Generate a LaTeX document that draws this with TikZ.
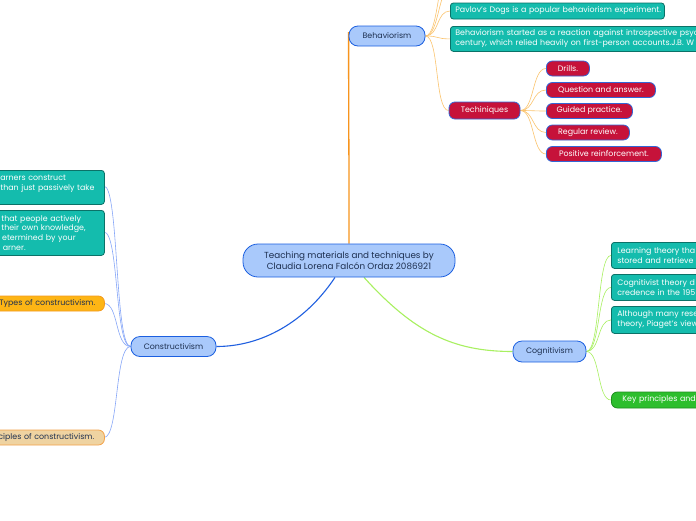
\documentclass[tikz,border=0pt]{standalone}
\usepackage{fontspec}
\setmainfont{Poppins}
\usetikzlibrary{backgrounds,calc}
\hyphenpenalty=10000
\definecolor{lblue}{HTML}{A9C9FB}
\definecolor{bblue}{HTML}{1B5FE0}
\definecolor{navy}{HTML}{1D2F4F}
\definecolor{tealf}{HTML}{14BCAD}
\definecolor{teald}{HTML}{0B7268}
\definecolor{redf}{HTML}{C6123A}
\definecolor{redb}{HTML}{3366D6}
\definecolor{orf}{HTML}{FDB515}
\definecolor{orb}{HTML}{F39A1E}
\definecolor{tanf}{HTML}{EFD3A1}
\definecolor{tanb}{HTML}{F3A24A}
\definecolor{grf}{HTML}{2DBE2D}
\definecolor{grb}{HTML}{1F8F1F}
\definecolor{lorange}{HTML}{FBC46E}
\definecolor{morange}{HTML}{F7941D}
\definecolor{mblue}{HTML}{1F5FE0}
\definecolor{llblue}{HTML}{86A6F8}
\definecolor{lgreen}{HTML}{A8F060}
\tikzset{
  fnt/.style={font=\fontsize{7.9}{9.8}\selectfont},
  topic/.style={fnt, draw=bblue, fill=lblue, text=navy, line width=0.8pt, rounded corners=9pt, inner sep=0pt, align=center},
  tealbox/.style={fnt, draw=teald, fill=tealf, text=white, line width=0.8pt, rounded corners=3pt, inner xsep=5pt, inner ysep=2pt, align=left},
  redpill/.style={fnt, draw=redb, fill=redf, text=white, line width=0.8pt, rounded corners=6pt, inner sep=0pt, align=center},
  orpill/.style={fnt, draw=orb, fill=orf, text=navy, line width=0.8pt, rounded corners=6pt, inner xsep=9pt, inner ysep=0pt, align=left},
  tanpill/.style={fnt, draw=tanb, fill=tanf, text=navy, line width=0.8pt, rounded corners=6pt, inner xsep=10pt, inner ysep=0pt, align=left},
  grpill/.style={fnt, draw=grb, fill=grf, text=white, line width=0.8pt, rounded corners=6pt, inner xsep=11pt, inner ysep=0pt, align=left},
  mainor/.style={draw=morange, line width=1.3pt},
  mainbl/.style={draw=mblue, line width=1.1pt},
  maingr/.style={draw=lgreen, line width=1.1pt},
  subor/.style={draw=lorange, line width=0.6pt},
  subbl/.style={draw=llblue, line width=0.6pt},
  subgr/.style={draw=lgreen, line width=0.6pt},
}
\begin{document}
\begin{tikzpicture}[x=1pt,y=-1pt]
\useasboundingbox (0,0) rectangle (696,520);

% central
\node[topic, font=\fontsize{8.8}{11}\selectfont, minimum width=212pt, minimum height=33pt, rounded corners=15pt] (cent) at (349,260.5)
  {Teaching materials and techniques by\\Claudia Lorena Falcón Ordaz 2086921};

% Behaviorism branch
\node[topic, minimum width=76pt, minimum height=20pt] (behav) at (387,36) {Behaviorism};
\node[tealbox, anchor=west, text width=204pt, minimum height=16pt] (pavlov) at (450,11)
  {\mbox{Pavlov's Dogs is a popular behaviorism experiment.}};
\node[tealbox, anchor=north west, text width=290pt, minimum height=25pt] (started) at (450,26)
  {\mbox{Behaviorism started as a reaction against introspective psyc}\\\mbox{century, which relied heavily on first-person accounts.J.B. W}};
\coordinate (up1) at (452,-14);
\coordinate (up2) at (452,-40);
\node[redpill, minimum width=71pt, minimum height=17pt] (tech) at (484.5,110.5) {Techiniques};
\node[redpill, anchor=west, minimum width=43pt, minimum height=15pt] (drills) at (546,68.5) {Drills.};
\node[redpill, anchor=west, minimum width=109pt, minimum height=15pt] (qa) at (546,90) {Question and answer.};
\node[redpill, anchor=west, minimum width=86pt, minimum height=15pt] (guided) at (546,111) {Guided practice.};
\node[redpill, anchor=west, minimum width=83pt, minimum height=15pt] (review) at (546,132.5) {Regular review.};
\node[redpill, anchor=west, minimum width=115pt, minimum height=15pt] (posit) at (546,154) {Positive reinforcement.};

% Constructivism branch
\node[topic, minimum width=85pt, minimum height=20pt] (constr) at (173.5,346.5) {Constructivism};
\node[tealbox, anchor=north west, text width=98pt, minimum height=34pt, inner xsep=6pt, inner ysep=3pt] (cb1) at (-6,170)
  {\mbox{arners construct}\\\mbox{than just passively take}\\\mbox{}};
\node[tealbox, anchor=north west, text width=96pt, minimum height=45pt, inner xsep=7pt] (cb2) at (-6,210)
  {\mbox{that people actively}\\\mbox{their own knowledge,}\\\mbox{\hspace*{0.8pt}etermined by your}\\\mbox{\hspace*{1.5pt}arner.}};
\node[orpill, anchor=west, text width=96pt, minimum height=15pt] (types) at (-10,303.5) {\mbox{Types of constructivism.}};
\node[tanpill, anchor=west, text width=96pt, minimum height=15pt] (princ) at (-12,437.5) {\mbox{ciples of constructivism.}};

% Cognitivism branch
\node[topic, minimum width=73pt, minimum height=21pt] (cogn) at (549.5,351.5) {Cognitivism};
\node[tealbox, anchor=north west, text width=108pt, minimum height=26pt, inner xsep=6pt] (g1) at (611,242)
  {\mbox{Learning theory tha}\\\mbox{stored and retrieve}};
\node[tealbox, anchor=north west, text width=108pt, minimum height=26pt, inner xsep=6pt] (g2) at (611,274)
  {\mbox{Cognitivist theory d}\\\mbox{credence in the 195}};
\node[tealbox, anchor=north west, text width=108pt, minimum height=27pt, inner xsep=6pt] (g3) at (611,306)
  {\mbox{Although many rese}\\\mbox{theory, Piaget's view}};
\node[grpill, anchor=west, text width=98pt, minimum height=16pt] (keyp) at (611,400) {\mbox{Key principles and}};

\begin{scope}[on background layer]
  \fill[white] (0,0) rectangle (696,520);
  % main branches
  \draw[mainor] (cent.north) .. controls +(0,-120) and +(0,90) .. ([yshift=4pt]behav.west);
  \draw[mainbl] ([xshift=-14pt]cent.south) .. controls +(-30,45) and +(45,0) .. (constr.east);
  \draw[maingr] ([xshift=15pt]cent.south) .. controls +(50,55) and +(-60,0) .. (cogn.west);
  % behaviorism children
  \foreach \t in {up1,up2,pavlov.west,started.west,tech.west}
    \draw[subor] (behav.east) .. controls +(14,0) and +(-14,0) .. (\t);
  \foreach \t in {drills,qa,guided,review,posit}
    \draw[subor] (tech.east) .. controls +(14,0) and +(-14,0) .. (\t.west);
  % constructivism children
  \foreach \t/\yy in {cb1/186,cb2/232,types/303.5,princ/437.5}
    \draw[subbl] (constr.west) .. controls +(-16,0) and +(15,0) .. (104,\yy);
  % cognitivism children
  \foreach \t in {g1,g2,g3,keyp}
    \draw[subgr] (cogn.east) .. controls +(14,0) and +(-14,0) .. (\t.west);
\end{scope}
\end{tikzpicture}
\end{document}
